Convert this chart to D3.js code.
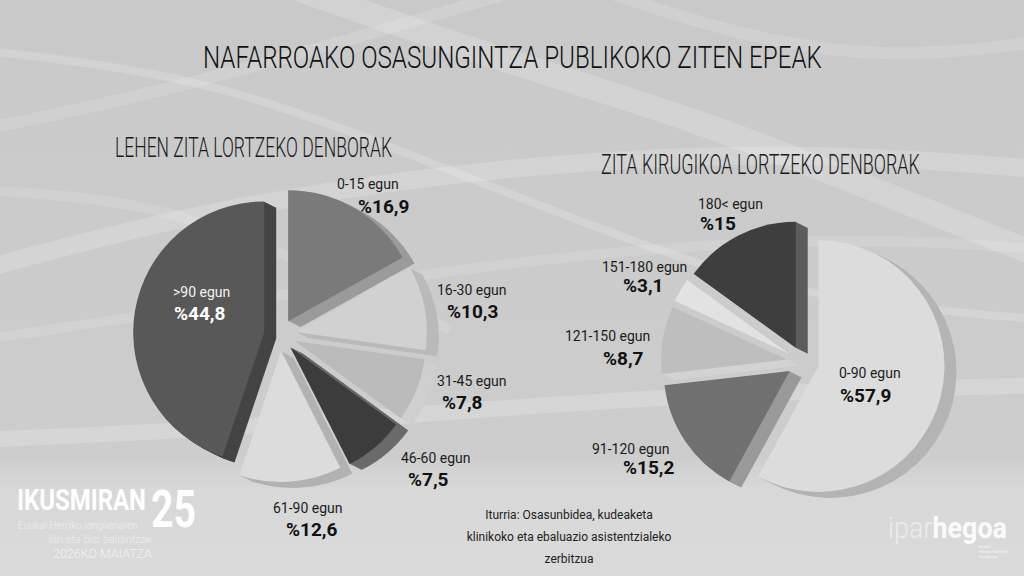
<!DOCTYPE html>
<html>
<head>
<meta charset="utf-8">
<script src="https://cdn.jsdelivr.net/npm/d3@7"></script>
<style>
  body { margin: 0; background: #cbcbcb; }
  svg { display: block; }
  .cond { font-family: "Roboto", sans-serif; font-weight: 300; }
  .lab { font-family: "Roboto", sans-serif; font-size: 14px; fill: #1c1c1c; }
  .val { font-family: "Roboto", sans-serif; font-size: 19px; font-weight: bold; fill: #111; }
</style>
</head>
<body>
<div id="chart"></div>
<script>
// data
const leftCats = ["0-15 egun", "16-30 egun", "31-45 egun", "46-60 egun", "61-90 egun", ">90 egun"];
const leftValues = [16.9, 10.3, 7.8, 7.5, 12.6, 44.8];
const rightCats = ["0-90 egun", "91-120 egun", "121-150 egun", "151-180 egun", "180< egun"];
const rightValues = [57.9, 15.2, 8.7, 3.1, 15];

const title = "NAFARROAKO OSASUNGINTZA PUBLIKOKO ZITEN EPEAK";
const leftTitle = "LEHEN ZITA LORTZEKO DENBORAK";
const rightTitle = "ZITA KIRUGIKOA LORTZEKO DENBORAK";
const source = ["Iturria: Osasunbidea, kudeaketa", "klinikoko eta ebaluazio asistentzialeko", "zerbitzua"];

const width = 1024, height = 576;

const svg = d3.select("#chart")
  .append("svg")
    .attr("width", width)
    .attr("height", height);

// squeeze a text horizontally so it spans w pixels from (x, y)
function fit(text, x, y, w) {
  text.attr("x", 0).attr("y", 0);
  const n = text.node().getComputedTextLength();
  text.attr("transform", `translate(${x},${y}) scale(${w / n},1)`);
  return text;
}

// background with soft light swooshes
const defs = svg.append("defs");
const grad = defs.append("linearGradient").attr("id", "bg").attr("x1", 0).attr("y1", 0).attr("x2", 0).attr("y2", 1);
grad.append("stop").attr("offset", "0%").attr("stop-color", "#c9c9c9");
grad.append("stop").attr("offset", "79%").attr("stop-color", "#cdcdcd");
grad.append("stop").attr("offset", "85%").attr("stop-color", "#d8d8d8");
grad.append("stop").attr("offset", "100%").attr("stop-color", "#dadada");
svg.append("rect").attr("width", width).attr("height", height).attr("fill", "url(#bg)");

const waves = [
  [[-20, 270], [200, 210], [500, 165], [800, 150], [1050, 170]],
  [[-20, 130], [150, 95], [350, 40], [520, -10]],
  [[300, -10], [500, 60], [700, 120], [900, 200], [1050, 260]],
  [[-20, 340], [250, 300], [550, 255], [850, 235], [1050, 250]],
  [[-20, 440], [300, 425], [650, 395], [1050, 385]],
  [[600, -10], [750, 40], [900, 60], [1050, 40]],
  [[-20, 50], [200, 75], [400, 150], [600, 230], [800, 300], [1050, 320]],
  [[-20, 190], [150, 200], [300, 260], [450, 330]]
];
const waveLine = d3.line().curve(d3.curveBasis);
svg.append("g")
  .selectAll("path")
  .data(waves)
  .join("path")
    .attr("d", waveLine)
    .attr("fill", "none")
    .attr("stroke", "#fff")
    .attr("stroke-opacity", (d, i) => i % 2 ? 0.13 : 0.18)
    .attr("stroke-width", (d, i) => [18, 12, 24, 10, 16, 12, 8, 10][i]);

// titles
fit(svg.append("text").attr("class", "cond")
  .style("font-size", "32px").style("fill", "#111")
  .text(title), 203, 68, 619);

fit(svg.append("text").attr("class", "cond")
  .style("font-size", "28px").style("fill", "#1a1a1a")
  .text(leftTitle), 115, 157, 277);

fit(svg.append("text").attr("class", "cond")
  .style("font-size", "28px").style("fill", "#1a1a1a")
  .text(rightTitle), 601, 174, 319);

// pie drawing with exploded slices and a side extrusion
const ext = [12, 6];
const fmt = v => "%" + String(v).replace(".", ",");

function drawPie(cx, cy, r, explode, cats, values, faces, sides, labels, inside) {
  const data = cats.map((c, i) => ({cat: c, v: values[i], i: i}));
  const pie = d3.pie().sort(null).value(d => d.v);
  const arc = d3.arc().innerRadius(0).outerRadius(r);
  const arcs = pie(data);
  const g = svg.append("g").attr("transform", `translate(${cx},${cy})`);
  const off = d => {
    const m = (d.startAngle + d.endAngle) / 2;
    return [Math.sin(m) * explode, -Math.cos(m) * explode];
  };
  const steps = d3.range(ext[0], 0, -1);
  // sides first
  const sideG = g.append("g");
  arcs.forEach(d => {
    const o = off(d);
    sideG.selectAll(null)
      .data(steps)
      .join("path")
        .attr("d", arc(d))
        .attr("fill", sides[d.data.i])
        .attr("transform", k => `translate(${o[0] + k},${o[1] + k * ext[1] / ext[0]})`);
  });
  // faces
  g.append("g")
    .selectAll("path")
    .data(arcs)
    .join("path")
      .attr("d", arc)
      .attr("fill", d => faces[d.data.i])
      .attr("transform", d => `translate(${off(d)})`);
  // labels
  const lg = g.append("g");
  arcs.forEach(d => {
    const p = labels[d.data.i];
    const white = d.data.i === inside;
    lg.append("text").attr("class", "lab")
      .attr("x", p[0]).attr("y", p[1])
      .style("fill", white ? "#f4f4f4" : null)
      .text(d.data.cat);
    lg.append("text").attr("class", "val")
      .attr("x", p[2]).attr("y", p[3])
      .style("fill", white ? "#fff" : null)
      .text(fmt(d.data.v));
  });
}

// label anchors relative to each pie centre: [labelX, labelY, valueX, valueY]
const leftLabelPos = [[57, -146, 78, -122], [157, -40, 167, -17], [157, 51, 162, 74],
                      [121, 128, 128, 151], [-7, 178, 6, 201], [-107, -38, -106, -15]];
const rightLabelPos = [[36, 16, 37, 40], [-211, 92, -180, 112], [-238, -21, -200, 3],
                       [-201, -90, -180, -70], [-105, -153, -103, -132]];

drawPie(280, 335, 131, 16, leftCats, leftValues,
  ["#7a7a7a", "#d1d1d1", "#bbbbbb", "#3c3c3c", "#dcdcdc", "#585858"],
  ["#9b9b9b", "#bababa", "#cfcfcf", "#6a6a6a", "#b2b2b2", "#444444"],
  leftLabelPos, 5);

drawPie(803, 362, 126, 16, rightCats, rightValues,
  ["#dcdcdc", "#707070", "#bebebe", "#e2e2e2", "#3e3e3e"],
  ["#b4b4b4", "#9a9a9a", "#d3d3d3", "#cbcbcb", "#5c5c5c"],
  rightLabelPos, -1);

// source
svg.append("g")
  .selectAll("text")
  .data(source)
  .join("text")
    .attr("x", 569)
    .attr("y", (d, i) => 519 + i * 22)
    .attr("text-anchor", "middle")
    .style("font-family", "Roboto, sans-serif")
    .style("font-size", "12px").style("fill", "#222")
    .text(d => d);

// IKUSMIRAN 25 logo
const logo = svg.append("g").style("fill", "#fff").style("font-family", "Roboto, sans-serif");
fit(logo.append("text").style("font-size", "29px").style("font-weight", "bold").text("IKUSMIRAN"), 17, 510, 129);
fit(logo.append("text").style("font-size", "52px").style("font-weight", "bold").text("25"), 151, 527, 45);
fit(logo.append("text").style("font-size", "10.5px").style("font-weight", 300).style("fill", "#eeeeee")
  .text("Euskal Herriko langileriaren"), 18, 529, 120);
logo.append("text").attr("x", 152).attr("y", 543).attr("text-anchor", "end")
  .style("font-size", "11px").style("font-weight", 300).style("fill", "#eeeeee").text("lan eta bizi baldintzak");
logo.append("text").attr("x", 152).attr("y", 558).attr("text-anchor", "end")
  .style("font-size", "12.5px").style("font-weight", 300).style("fill", "#f2f2f2").text("2026KO MAIATZA");

// iparhegoa logo
const ip = svg.append("text")
  .style("font-family", "Roboto, sans-serif").style("font-size", "29px");
ip.append("tspan").style("fill", "#ececec").style("font-weight", 300).text("ipar");
ip.append("tspan").style("fill", "#fafafa").style("font-weight", "bold").text("hegoa");
fit(ip, 888, 538, 119);
svg.append("g")
  .selectAll("text")
  .data(["Euskal", "Herriko Ikerketa", "Fundazioa"])
  .join("text")
    .attr("x", 979).attr("y", (d, i) => 548 + i * 5)
    .style("font-family", "Roboto, sans-serif").style("font-size", "4px").style("fill", "#f4f4f4")
    .text(d => d);
</script>
</body>
</html>
